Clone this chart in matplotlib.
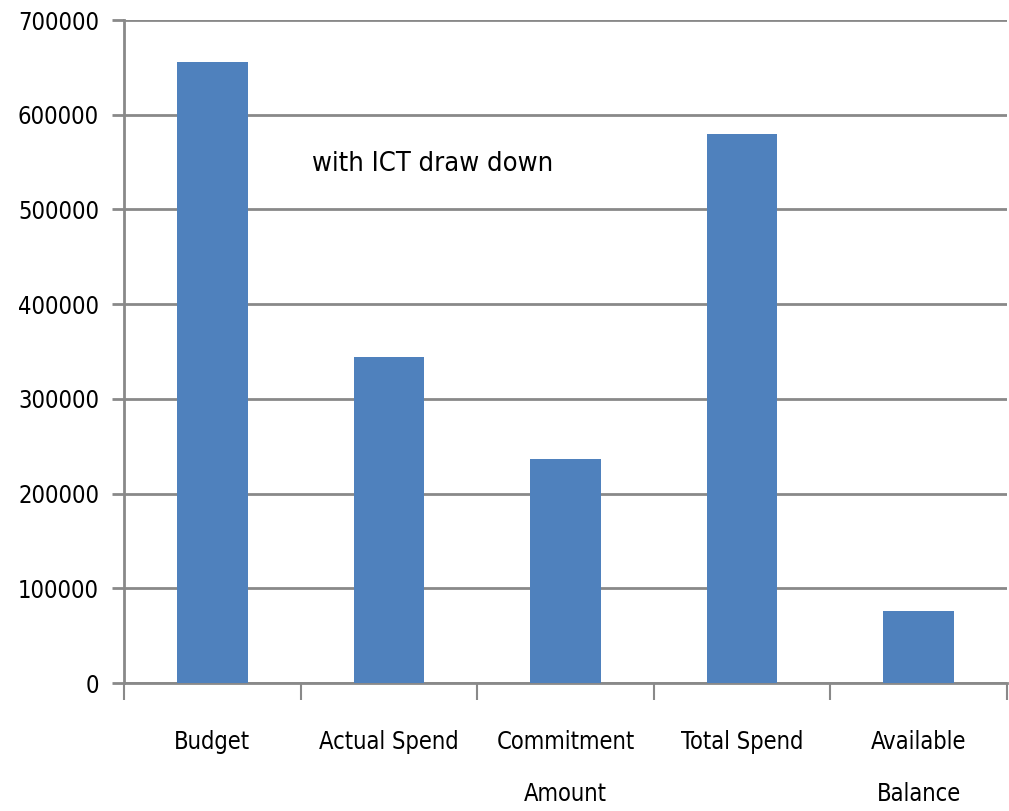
import matplotlib.pyplot as plt
import numpy as np

categories = ["Budget", "Actual Spend", "Commitment\nAmount", "Total Spend", "Available\nBalance"]
values = [656000, 344000, 237000, 580000, 76000]
y_ticks = [0, 100000, 200000, 300000, 400000, 500000, 600000, 700000]

FONT = dict(family="DejaVu Sans", fontstretch="condensed")
GRID = "#898989"

fig = plt.figure(figsize=(10.09, 8.11), dpi=100)
ax = fig.add_axes([0.1229, 0.1578, 0.8751, 0.8175])

x = np.arange(len(categories))
ax.bar(x, values, width=0.4, color="#4F81BD", zorder=3)

ax.set_xlim(-0.5, len(categories) - 0.5)
ax.set_ylim(0, 700000)
ax.set_yticks(y_ticks)
ax.set_yticklabels([str(v) for v in y_ticks], fontsize=17, **FONT)
ax.yaxis.grid(True, color=GRID, linewidth=2, zorder=0)

# category labels centered, tick marks at category boundaries
ax.set_xticks(x)
ax.set_xticklabels(categories, fontsize=17, linespacing=2.45, **FONT)
ax.tick_params(axis="x", which="major", length=0, pad=34)
ax.set_xticks(np.arange(len(categories) + 1) - 0.5, minor=True)
ax.tick_params(axis="x", which="minor", length=12, width=1.5, color=GRID)
ax.tick_params(axis="y", length=9, width=2, color=GRID, pad=9)

for side in ("top", "right"):
    ax.spines[side].set_visible(False)
for side in ("left", "bottom"):
    ax.spines[side].set_color(GRID)
    ax.spines[side].set_linewidth(2)

ax.text(0.213, 0.783, "with ICT draw down", transform=ax.transAxes,
        fontsize=19.5, va="center", ha="left", **FONT)

fig.savefig("out.png", dpi=100)
